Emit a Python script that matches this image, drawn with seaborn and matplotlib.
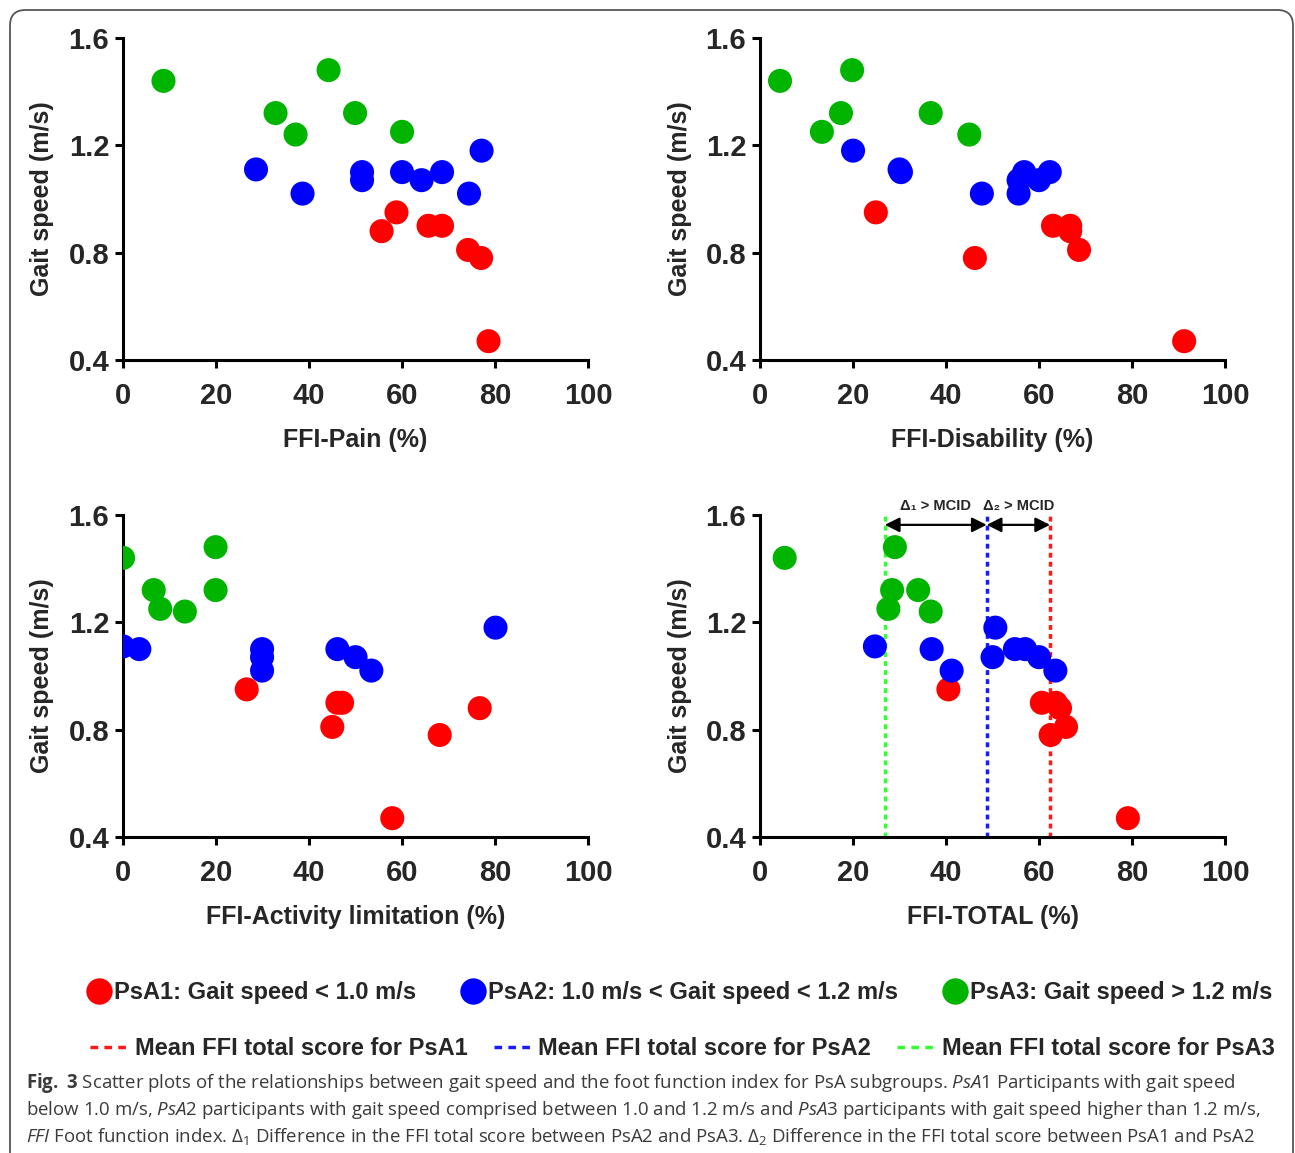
import numpy as np
import pandas as pd
import matplotlib
matplotlib.use("Agg")
import matplotlib.pyplot as plt
from matplotlib.lines import Line2D
from matplotlib.patches import FancyBboxPatch
import seaborn as sns

# groupes et couleurs
groups = ["PsA1", "PsA2", "PsA3"]
group_labels = ["PsA1: Gait speed < 1.0 m/s",
                "PsA2: 1.0 m/s < Gait speed < 1.2 m/s",
                "PsA3: Gait speed > 1.2 m/s"]
mean_labels = ["Mean FFI total score for PsA1",
               "Mean FFI total score for PsA2",
               "Mean FFI total score for PsA3"]
dot_colors = ["#ff0000", "#0000ff", "#00b400"]
line_colors = ["#ff1a1a", "#1a1aff", "#33ff33"]

# vitesse de marche (m/s) par groupe
speed_psa1 = [0.95, 0.90, 0.90, 0.88, 0.81, 0.78, 0.47]
speed_psa2 = [1.18, 1.11, 1.10, 1.10, 1.10, 1.07, 1.07, 1.02, 1.02]
speed_psa3 = [1.48, 1.44, 1.32, 1.32, 1.25, 1.24]

# FFI (%) dans le meme ordre que les vitesses
pain_psa1 = [58.8, 65.7, 68.6, 55.6, 74.2, 77.0, 78.6]
pain_psa2 = [77.1, 28.6, 51.4, 60.0, 68.6, 51.4, 64.2, 38.6, 74.4]
pain_psa3 = [44.2, 8.7, 32.8, 49.9, 60.0, 37.1]

disab_psa1 = [24.9, 63.0, 66.7, 66.7, 68.6, 46.2, 91.2]
disab_psa2 = [20.0, 30.0, 30.3, 56.8, 62.3, 55.6, 60.0, 47.7, 55.6]
disab_psa3 = [19.8, 4.3, 17.4, 36.7, 13.3, 45.0]

activ_psa1 = [26.6, 46.1, 47.1, 76.7, 45.0, 68.1, 57.9]
activ_psa2 = [80.1, 0.0, 3.5, 29.9, 46.1, 29.9, 50.0, 29.9, 53.4]
activ_psa3 = [19.9, 0.0, 6.6, 19.9, 8.0, 13.3]

total_psa1 = [40.5, 60.6, 63.6, 64.5, 65.8, 62.5, 79.1]
total_psa2 = [50.6, 24.7, 36.9, 54.8, 57.0, 50.0, 60.0, 41.2, 63.5]
total_psa3 = [29.0, 5.3, 28.4, 34.0, 27.6, 36.7]

x_labels = ["FFI-Pain (%)", "FFI-Disability (%)",
            "FFI-Activity limitation (%)", "FFI-TOTAL (%)"]
panel_data = [(pain_psa1, pain_psa2, pain_psa3),
              (disab_psa1, disab_psa2, disab_psa3),
              (activ_psa1, activ_psa2, activ_psa3),
              (total_psa1, total_psa2, total_psa3)]
speeds = [speed_psa1, speed_psa2, speed_psa3]

caption_lines = [
    r"$\mathbf{Fig.\ 3}$ Scatter plots of the relationships between gait speed and the foot function index for PsA subgroups. "
    r"$\mathit{PsA1}$ Participants with gait speed",
    r"below 1.0 m/s, $\mathit{PsA2}$ participants with gait speed comprised between 1.0 and 1.2 m/s and "
    r"$\mathit{PsA3}$ participants with gait speed higher than 1.2 m/s,",
    r"$\mathit{FFI}$ Foot function index. $\Delta_1$ Difference in the FFI total score between PsA2 and PsA3. "
    r"$\Delta_2$ Difference in the FFI total score between PsA1 and PsA2",
]

sns.set_style("ticks")
plt.rcParams["font.family"] = ["Liberation Sans", "DejaVu Sans"]
plt.rcParams["mathtext.fontset"] = "custom"
plt.rcParams["mathtext.rm"] = "Open Sans"
plt.rcParams["mathtext.it"] = "Open Sans:italic"
plt.rcParams["mathtext.bf"] = "Open Sans:bold"

fig = plt.figure(figsize=(12.95, 11.53), dpi=100)

positions = [[0.095, 0.6878, 0.3591, 0.2793],
             [0.5869, 0.6878, 0.3591, 0.2793],
             [0.095, 0.2741, 0.3591, 0.2793],
             [0.5869, 0.2741, 0.3591, 0.2793]]

palette = dict(zip(groups, dot_colors))
mean_ls = (0, (1.4, 1.2))

for k in range(4):
    ax = fig.add_axes(positions[k])
    rows = []
    for g, xs, ys in zip(groups, panel_data[k], speeds):
        for xv, yv in zip(xs, ys):
            rows.append({"ffi": xv, "speed": yv, "group": g})
    df = pd.DataFrame(rows)
    sns.scatterplot(data=df, x="ffi", y="speed", hue="group", palette=palette,
                    s=300, linewidth=0, alpha=1, legend=False, ax=ax, zorder=3)
    ax.set_xlim(0, 100)
    ax.set_ylim(0.4, 1.6)
    ax.set_xticks(range(0, 101, 20))
    ax.set_yticks([0.4, 0.8, 1.2, 1.6])
    ax.set_yticklabels(["0.4", "0.8", "1.2", "1.6"])
    ax.set_xlabel(x_labels[k], fontsize=18, fontweight="bold", labelpad=13)
    ax.set_ylabel("Gait speed (m/s)", fontsize=18, fontweight="bold", labelpad=10)
    for lab in ax.get_xticklabels() + ax.get_yticklabels():
        lab.set_fontweight("bold")
    ax.tick_params(labelsize=21, width=2.2, length=6, direction="out", color="black")
    ax.tick_params(axis="x", pad=10)
    ax.tick_params(axis="y", pad=4)
    sns.despine(ax=ax)
    for side in ["left", "bottom"]:
        ax.spines[side].set_linewidth(2.2)
        ax.spines[side].set_color("black")

    if k == 3:
        means = [np.mean(v) for v in panel_data[3]]
        for m, c in zip(means, line_colors):
            ax.axvline(m, color=c, lw=2.5, ls=mean_ls, zorder=2)
        y_arrow = 1.563
        ax.annotate("", xy=(means[1], y_arrow), xytext=(means[2], y_arrow),
                    arrowprops=dict(arrowstyle="<|-|>", color="black", lw=1.6,
                                    mutation_scale=22, shrinkA=0, shrinkB=0))
        ax.annotate("", xy=(means[0], y_arrow), xytext=(means[1], y_arrow),
                    arrowprops=dict(arrowstyle="<|-|>", color="black", lw=1.6,
                                    mutation_scale=22, shrinkA=0, shrinkB=0))
        ax.text((means[1] + means[2]) / 2, 1.632, "Δ₁ > MCID", ha="center", va="center",
                fontsize=10.5, fontweight="bold", clip_on=False)
        ax.text((means[0] + means[1]) / 2, 1.632, "Δ₂ > MCID", ha="center", va="center",
                fontsize=10.5, fontweight="bold", clip_on=False)

# legendes
dot_handles = [Line2D([], [], marker="o", ls="", markerfacecolor=c, markeredgewidth=0,
                      markersize=19) for c in dot_colors]
fig.legend(dot_handles, group_labels, loc="center", bbox_to_anchor=(0.525, 0.1388),
           ncol=3, frameon=False, prop=dict(weight="bold", size=17),
           handlelength=1.0, handletextpad=0.15, columnspacing=1.9)

line_handles = [Line2D([], [], color=c, lw=2.5, ls=(0, (2.2, 1.8))) for c in line_colors]
fig.legend(line_handles, mean_labels, loc="center", bbox_to_anchor=(0.527, 0.0902),
           ncol=3, frameon=False, prop=dict(weight="bold", size=17),
           handlelength=1.6, handletextpad=0.3, columnspacing=1.1)

# legende de la figure
for i, line in enumerate(caption_lines):
    fig.text(0.0201, 0.0607 - i * 0.0234, line, fontsize=13.4, color="#3a3a3a",
             family="Open Sans", va="center", ha="left")

# cadre arrondi
frame = FancyBboxPatch((10 / 1295, -0.05), 1283 / 1295, 1.05 - 10 / 1153,
                       boxstyle="round,pad=0,rounding_size=0.012",
                       mutation_aspect=1295 / 1153, transform=fig.transFigure,
                       fill=False, edgecolor="#555555", lw=1.3)
fig.patches.append(frame)

fig.savefig("out.png", dpi=100)
